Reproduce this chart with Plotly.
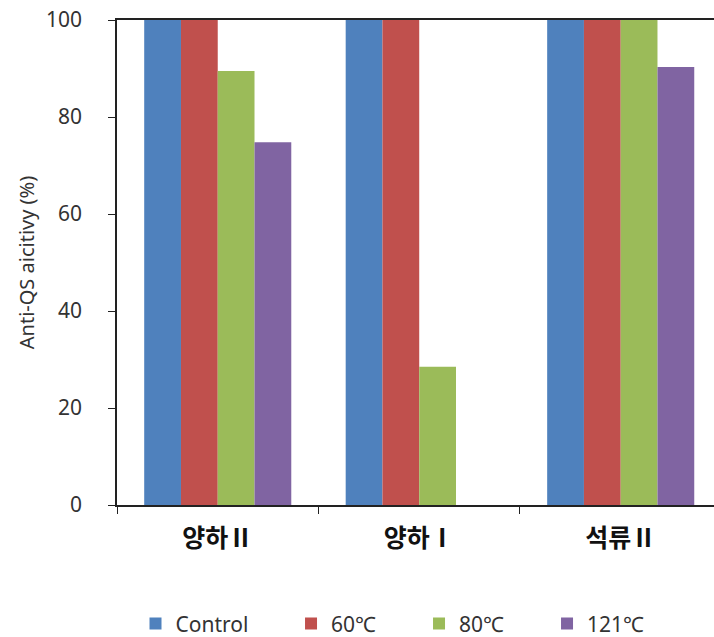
import plotly.graph_objects as go

categories = ["양하Ⅱ", "양하Ⅰ", "석류Ⅱ"]
series_names = ["Control", "60℃", "80℃", "121℃"]
control = [100, 100, 100]
t60 = [100, 100, 100]
t80 = [89.5, 28.5, 100]
t121 = [74.8, None, 90.3]
colors = ["#4F81BD", "#C0504D", "#9BBB59", "#8064A2"]
y_ticks = [0, 20, 40, 60, 80, 100]

fig = go.Figure()
for i, (name, vals, col) in enumerate(zip(series_names, [control, t60, t80, t121], colors)):
    fig.add_trace(go.Bar(x=categories, y=vals, name=name, showlegend=True,
                         legend="legend" if i == 0 else "legend2",
                         marker=dict(color=col, line=dict(width=0))))

legend_common = dict(orientation="h", yanchor="middle", y=-0.245, xanchor="left",
                     font=dict(size=21, color="#333333", family="Noto Sans"),
                     bgcolor="rgba(0,0,0,0)", visible=True)

fig.update_layout(
    width=714, height=637, showlegend=True,
    margin=dict(l=117, r=0, t=20, b=132, autoexpand=False),
    paper_bgcolor="white", plot_bgcolor="white",
    barmode="group", bargap=0.27, bargroupgap=0,
    font=dict(family="Noto Sans, Noto Sans CJK KR", color="#333333"),
    legend=dict(x=0.031, **legend_common),
    legend2=dict(x=0.2915, entrywidth=83, entrywidthmode="pixels", **legend_common),
    xaxis=dict(range=[-0.5, 2.463], showline=True, linecolor="#222222", linewidth=1.5,
               mirror=True, ticks="outside", tickson="boundaries", ticklen=7,
               tickcolor="#222222", ticklabelstandoff=10,
               tickfont=dict(size=25, family="Noto Sans CJK KR", color="#111111",
                             weight="bold")),
    yaxis=dict(range=[0, 100], tickvals=y_ticks, showline=True, linecolor="#222222",
               linewidth=1.5, ticks="outside", ticklen=7, tickcolor="#222222",
               showgrid=False, zeroline=False, ticklabeloverflow="allow",
               ticklabelstandoff=22,
               tickfont=dict(size=21, color="#333333"),
               title=dict(text="Anti-QS aicitivy (%)", font=dict(size=20, color="#333333"),
                          standoff=6)),
)

fig.write_html("out.html", config={"displayModeBar": False},
               post_script="document.body.style.margin='0px';")
